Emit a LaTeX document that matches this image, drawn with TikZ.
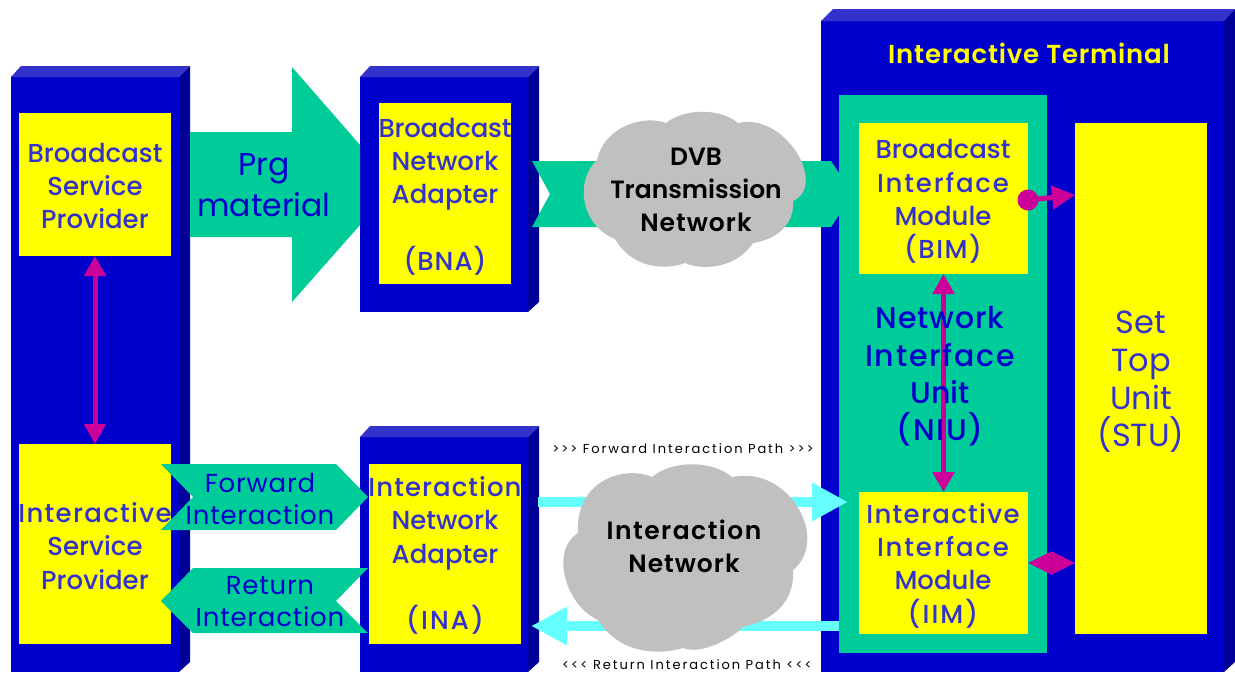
\documentclass[tikz,border=0pt]{standalone}
\usepackage{fontspec}
\usetikzlibrary{arrows.meta}
\setmainfont{Poppins}
\newfontfamily\boldlab{Poppins Medium}
\newfontfamily\heavylab{Poppins SemiBold}
\newfontfamily\pathfont[LetterSpace=15]{Poppins}
\newfontfamily\arrowfont[LetterSpace=3]{Poppins}
\newcommand\lspread[2]{{\addfontfeature{LetterSpace=#1}#2}}
\definecolor{frontblue}{HTML}{0000CC}
\definecolor{topblue}{HTML}{3333CC}
\definecolor{sideblue}{HTML}{000099}
\definecolor{sea}{HTML}{00CC99}
\definecolor{aqua}{HTML}{66FFFF}
\definecolor{cloudgray}{HTML}{C0C0C0}
\definecolor{magent}{HTML}{CC0099}
\definecolor{lemon}{HTML}{FFFF00}
\newcommand\rectnode[6]{\node[#6,minimum width={(#4-#2)*1pt},minimum height={(#5-#3)*1pt}] (#1) at ({(#2+#4)/2},{(#3+#5)/2}) {};}
\tikzset{
  x=1pt,y=-1pt,
  panel/.style={fill=frontblue,draw=none,inner sep=0pt,outer sep=0pt},
  sidepanel/.style={fill=sideblue},
  toppanel/.style={fill=topblue},
  yellowbox/.style={fill=lemon,draw=none,inner sep=0pt,outer sep=0pt},
  seabox/.style={fill=sea,draw=none,inner sep=0pt,outer sep=0pt},
  seashape/.style={fill=sea},
  cloudshape/.style={fill=cloudgray},
  label/.style={inner sep=0pt,align=center,text=topblue,font=\boldlab\fontsize{26}{33.3}\selectfont},
  biglabel/.style={inner sep=0pt,align=center,text=frontblue,font=\boldlab\fontsize{30}{37.3}\selectfont},
  arrowlabel/.style={inner sep=0pt,align=center,text=frontblue,font=\arrowfont\fontsize{26}{32.5}\selectfont},
  cloudlabel/.style={inner sep=0pt,align=center,text=black,font=\heavylab\fontsize{25}{33}\selectfont},
  pathlabel/.style={inner sep=0pt,text=black,font=\pathfont\fontsize{13}{14}\selectfont},
  duplex/.style={draw=magent,line width=5pt,{Triangle[length=20pt,width=21pt,fill=magent]}-{Triangle[length=20pt,width=21pt,fill=magent]}},
  oneway/.style={draw=magent,line width=5pt,-{Triangle[length=23pt,width=23pt,fill=magent]}},
  diamondlink/.style={draw=magent,line width=1pt,{Triangle[length=23.5pt,width=23pt,fill=magent]}-{Triangle[length=23.5pt,width=23pt,fill=magent]}},
  cyanpath/.style={draw=aqua,line width=10pt,-{Triangle[length=36pt,width=36pt,fill=aqua]}},
  magdot/.style={circle,fill=magent,inner sep=0pt,minimum size=21pt,outer sep=0pt},
}
\begin{document}
\begin{tikzpicture}
\useasboundingbox (0,0) rectangle (1235,673);
% left block
\rectnode{leftblock}{11}{77}{179}{672}{panel}
\fill[toppanel] (11,77) -- (21,66) -- (190,66) -- (179,77) -- cycle;
\fill[sidepanel] (179,77) -- (190,66) -- (190,662) -- (179,672) -- cycle;
% BNA block
\rectnode{bnablock}{360}{77}{528}{312}{panel}
\fill[toppanel] (360,77) -- (370,66) -- (539,66) -- (528,77) -- cycle;
\fill[sidepanel] (528,77) -- (539,66) -- (539,302) -- (528,312) -- cycle;
% INA block
\rectnode{inablock}{360}{437}{528}{672}{panel}
\fill[toppanel] (360,437) -- (370,426) -- (539,426) -- (528,437) -- cycle;
\fill[sidepanel] (528,437) -- (539,426) -- (539,662) -- (528,672) -- cycle;
% terminal block
\rectnode{termblock}{821}{21}{1224}{672}{panel}
\fill[toppanel] (821,21) -- (833,9) -- (1235,9) -- (1224,21) -- cycle;
\fill[sidepanel] (1224,21) -- (1235,9) -- (1235,662) -- (1224,672) -- cycle;
\rectnode{bsp}{19}{113}{171}{256}{yellowbox}
\rectnode{isp}{19}{444}{171}{644}{yellowbox}
\rectnode{bna}{379}{103}{511}{284}{yellowbox}
\rectnode{ina}{369}{464}{521}{644}{yellowbox}
% big programme arrow
\fill[seashape] (190,132) -- (292,132) -- (292,67) -- (360,145) -- (360,225) -- (292,302) -- (292,237) -- (190,237) -- cycle;
% DVB transmission arrow
\fill[seashape] (532,161) -- (831,161) -- (853,194) -- (831,227) -- (532,227) -- (550,194) -- cycle;
% NIU and modules
\rectnode{niu}{839}{95}{1047}{653}{seabox}
\rectnode{bim}{859}{123}{1028}{274}{yellowbox}
\rectnode{iim}{859}{492}{1028}{634}{yellowbox}
\rectnode{stu}{1075}{123}{1207}{634}{yellowbox}
% forward / return interaction arrows
\fill[seashape] (161,464) -- (336,464) -- (368,497) -- (336,530) -- (161,530) -- (193,497) -- cycle;
\fill[seashape] (161,601) -- (193,568) -- (368,568) -- (336,601) -- (368,633) -- (193,633) -- cycle;
% cyan paths
\coordinate (fwdstart) at (538,502);
\coordinate (fwdend) at (848,502);
\coordinate (retstart) at (839,626);
\coordinate (retend) at (531,626);
\draw[cyanpath] (fwdstart) -- (fwdend);
\draw[cyanpath] (retstart) -- (retend);
% clouds
\fill[cloudshape] (666,123) .. controls (685,108) and (720,108) .. (738,123)
  .. controls (785,112) and (828,185) .. (793,201)
  .. controls (795,225) and (775,240) .. (753,243)
  .. controls (735,270) and (700,270) .. (685,263)
  .. controls (660,272) and (630,265) .. (615,239)
  .. controls (580,225) and (575,180) .. (597,160)
  .. controls (605,125) and (645,115) .. (666,123) -- cycle;
\fill[cloudshape] (652,477) .. controls (672,460) and (712,460) .. (732,477)
  .. controls (790,465) and (830,540) .. (793,570)
  .. controls (795,600) and (775,620) .. (743,627)
  .. controls (730,640) and (700,655) .. (683,648)
  .. controls (660,655) and (620,655) .. (598,620)
  .. controls (565,605) and (550,550) .. (578,533)
  .. controls (575,480) and (625,465) .. (652,477) -- cycle;
% magenta connectors
\draw[duplex] (bsp.south) -- (isp.north);
\draw[duplex] (bim.south) -- (iim.north);
\node[magdot] (bimdot) at (1028,200) {};
\coordinate (stutop) at (1075,195);
\coordinate (iimside) at (1028,563);
\coordinate (stuside) at (1075,563);
\draw[oneway] (bimdot.center) -- (stutop);
\draw[diamondlink] (iimside) -- (stuside);
% labels
\node[label] (lbsp) at (95,186) {Broadcast\\Service\\Provider};
\node[label] (lbna) at (445,196.5) {\lspread{-1}{Broadcast}\\Network\\Adapter\\[33pt]\lspread{4}{(BNA)}};
\node[label] (lisp) at (95,546) {\lspread{5}{Interactive}\\Service\\Provider};
\node[label] (lina) at (445,555.5) {\lspread{4}{Interaction}\\Network\\Adapter\\[33pt]\lspread{8}{(INA)}};
\node[label] (lbim) at (943,201.5) {Broadcast\\\lspread{7}{Interface}\\Module\\\lspread{6}{(BIM)}};
\node[label] (liim) at (943,565.5) {\lspread{5}{Interactive}\\\lspread{7}{Interface}\\Module\\\lspread{8}{(IIM)}};
\node[biglabel] (lniu) at (940,376.5) {\lspread{3}{Network}\\\lspread{6}{Interface}\\Unit\\\lspread{6}{(NIU)}};
\node[biglabel,text=topblue,font=\fontsize{32}{37.7}\selectfont] (lstu) at (1141,382) {Set\\Top\\Unit\\(STU)};
\node[arrowlabel,font=\fontsize{31.5}{41}\selectfont] (lprg) at (264,185) {Prg\\material};
\node[arrowlabel] (lfwd) at (260,499) {Forward\\Interaction};
\node[arrowlabel] (lret) at (270,601.5) {Return\\Interaction};
\node[cloudlabel] (ldvb) at (696,190) {DVB\\Transmission\\\lspread{4}{Network}};
\node[cloudlabel] (lint) at (684,546.5) {\lspread{6}{Interaction}\\\lspread{4}{Network}};
\node[pathlabel] (lfp) at (683,449) {>{}>{}> Forward Interaction Path >{}>{}>};
\node[pathlabel] (lrp) at (687,664.5) {<{}<{}< Return Interaction Path <{}<{}<};
\node[inner sep=0pt,text=lemon,font=\heavylab\fontsize{26}{30}\selectfont] (lterm) at (1029,53) {\lspread{3}{Interactive Terminal}};
\end{tikzpicture}
\end{document}
